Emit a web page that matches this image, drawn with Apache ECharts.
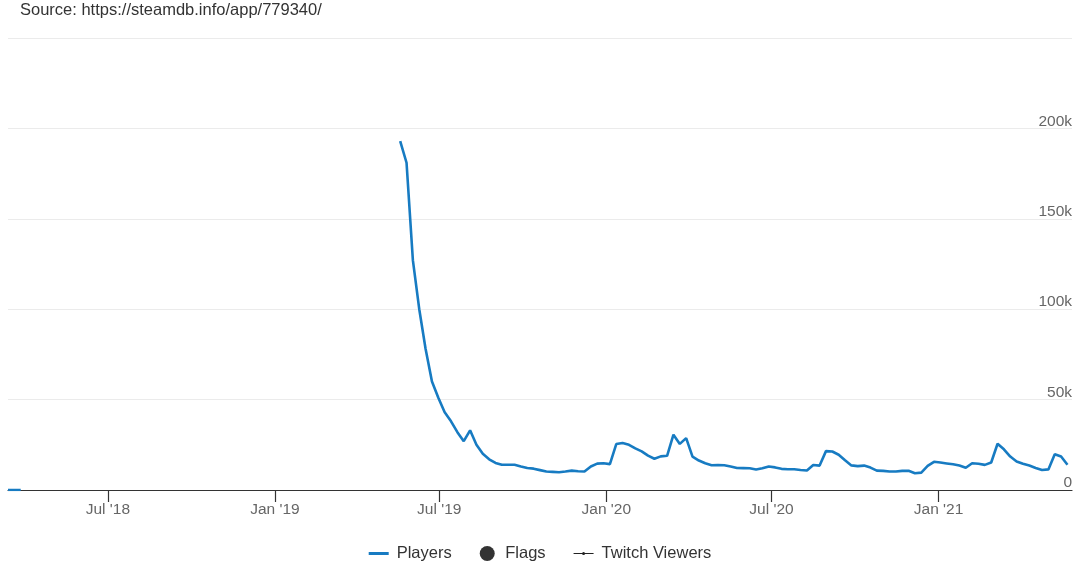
<!DOCTYPE html>
<html>
<head>
<meta charset="utf-8">
<script src="https://cdn.jsdelivr.net/npm/echarts@6/dist/echarts.min.js"></script>
<style>html,body{margin:0;padding:0;background:#fff}#c{width:1080px;height:567px}</style>
</head>
<body>
<div id="c"></div>
<script>
const sourceText = 'Source: https://steamdb.info/app/779340/';
const earlyDates = ['2018-03-13', '2018-03-20', '2018-03-27'];
const earlyValues = [0, 0, 0];
const weeklyStart = '2019-05-19';
const playerValues = [193000,181000,127000,100000,78000,60000,51000,43000,38000,32000,
  27000,33000,25000,20000,17000,15000,14000,14000,14000,13000,
  12200,11800,11000,10200,10000,9800,10200,10700,10400,10200,
  13000,14600,14800,14300,25400,26000,25000,23000,21400,19000,
  17300,18600,18900,30600,25500,28700,18500,16300,14800,13700,
  13800,13700,13000,12200,12100,12000,11300,12000,13000,12500,
  11700,11500,11500,11100,10800,13800,13500,21500,21300,19500,
  16400,13600,13200,13500,12400,10700,10600,10200,10200,10600,
  10600,9300,9600,13300,15600,15200,14700,14200,13500,12300,
  14800,14500,13900,15200,25600,22500,18500,15800,14500,13500,
  12200,11100,11400,19800,18500,14000];
const tickDates = ['2018-07-01', '2019-01-01', '2019-07-01', '2020-01-01', '2020-07-01', '2021-01-01'];
const axisRange = ['2018-03-13', '2021-05-28'];
const yTicks = [0, 50000, 100000, 150000, 200000, 250000];
const monthNames = ['Jan','Feb','Mar','Apr','May','Jun','Jul','Aug','Sep','Oct','Nov','Dec'];

function toUTC(s) { const p = s.split('-').map(Number); return Date.UTC(p[0], p[1] - 1, p[2]); }
const DAY = 86400000;
const startTs = toUTC(weeklyStart);
const playerData = earlyDates.map((d, i) => [toUTC(d), earlyValues[i]])
  .concat([[toUTC('2018-04-03'), null]])
  .concat(playerValues.map((v, i) => [startTs + i * 7 * DAY, v]));
const tickTs = tickDates.map(toUTC);

const font = 'Liberation Sans, Arial, Helvetica, sans-serif';
const chart = echarts.init(document.getElementById('c'));
chart.setOption({
  animation: false,
  textStyle: { fontFamily: font },
  graphic: [{ type: 'text', left: 20, top: 2, style: { text: sourceText, fontSize: 16.5, fill: '#333', fontFamily: font } }],
  grid: { left: 8, right: 8, top: 38, bottom: 77 },
  legend: {
    bottom: 0, left: 'center', itemWidth: 20, itemHeight: 15, itemGap: 28,
    textStyle: { fontSize: 16.5, color: '#333', fontFamily: font, padding: [0, 0, 0, 3] },
    data: [
      { name: 'Players', icon: 'path://M0,0 M20,15 M0,6 L20,6 L20,9 L0,9 Z' },
      { name: 'Flags', icon: 'circle', itemStyle: { color: '#000' } },
      { name: 'Twitch Viewers', icon: 'path://M0,0 M20,15 M0,7 L20,7 L20,8 L0,8 Z M8.5,7.5 A1.5,1.5 0 1 1 11.5,7.5 A1.5,1.5 0 1 1 8.5,7.5 Z' }
    ]
  },
  xAxis: {
    type: 'value', min: toUTC(axisRange[0]), max: toUTC(axisRange[1]),
    axisLine: { lineStyle: { color: '#333', width: 1.2 } },
    axisTick: { show: true, length: 12, lineStyle: { color: '#333', width: 1.2 }, customValues: tickTs },
    axisLabel: {
      customValues: tickTs, margin: 12, fontSize: 15.5, color: '#666', fontFamily: font,
      formatter: v => { const d = new Date(v); return monthNames[d.getUTCMonth()] + " '" + String(d.getUTCFullYear()).slice(2); }
    },
    splitLine: { show: false }
  },
  yAxis: {
    type: 'value', position: 'right', min: yTicks[0], max: yTicks[yTicks.length - 1], interval: 50000,
    axisLine: { show: false }, axisTick: { show: false },
    splitLine: { lineStyle: { color: '#ebebeb', width: 1 } },
    axisLabel: {
      inside: true, margin: 0, fontSize: 15.5, color: '#666', verticalAlign: 'bottom', padding: [0, 0, -1, 0], fontFamily: font,
      formatter: v => v === 250000 ? '' : (v === 0 ? '0' : (v / 1000) + 'k')
    }
  },
  series: [
    { name: 'Players', type: 'line', data: playerData, symbol: 'none', connectNulls: false,
      color: '#177bc2', lineStyle: { color: '#177bc2', width: 2.6 }, z: 5 },
    { name: 'Flags', type: 'scatter', data: [], color: '#000', itemStyle: { color: '#000' } },
    { name: 'Twitch Viewers', type: 'line', data: [], color: '#222', symbol: 'none', lineStyle: { width: 1, color: '#222' } }
  ]
});
</script>
</body>
</html>
